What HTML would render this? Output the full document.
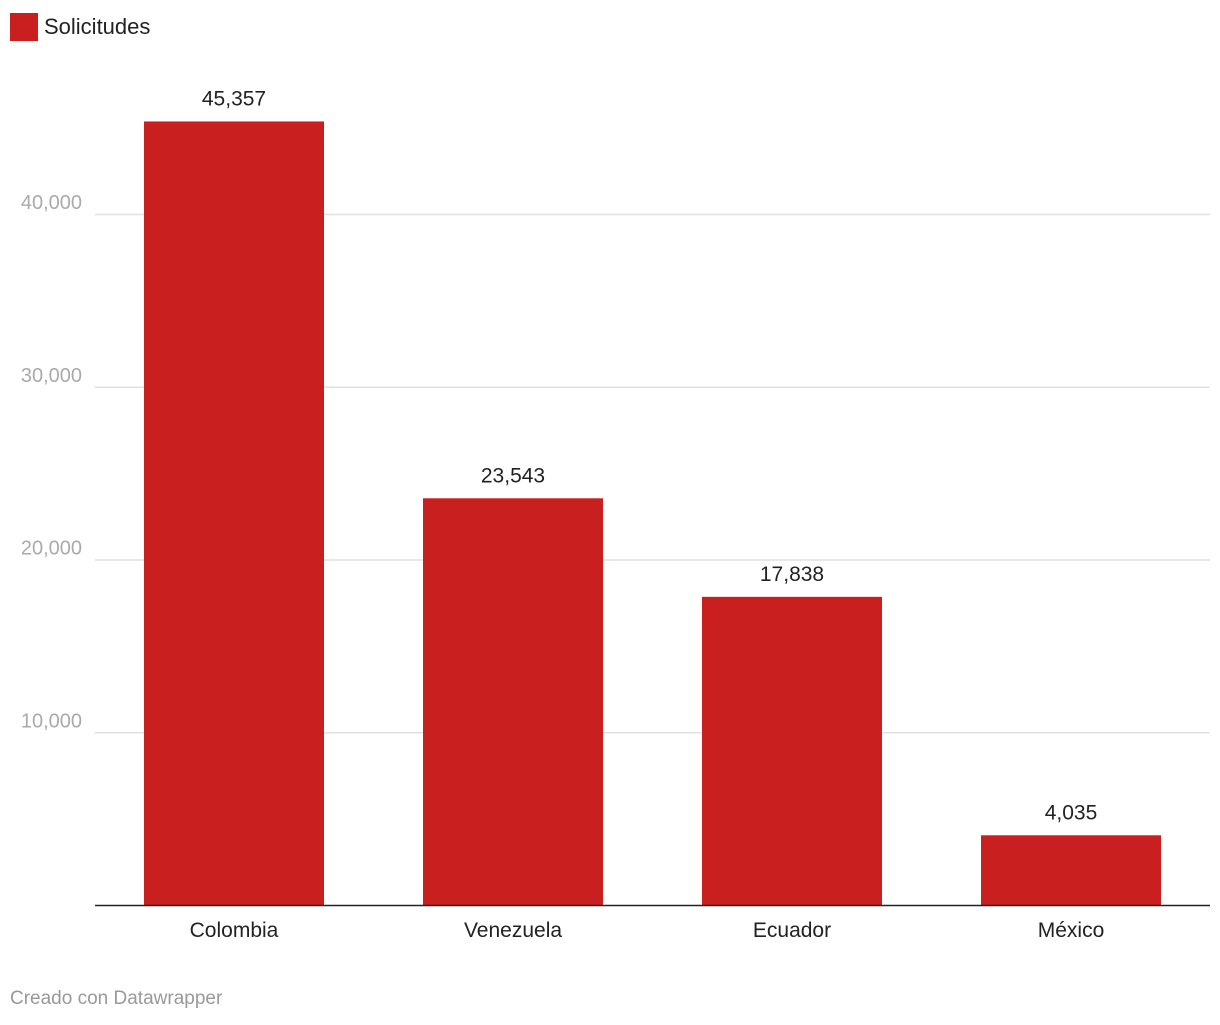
<!DOCTYPE html>
<html><head><meta charset="utf-8"><style>
body{margin:0;background:#fff;font-family:"Liberation Sans",Arial,sans-serif;}
svg text{font-family:"Liberation Sans",Arial,sans-serif;}
</style></head><body>
<svg id="chart" width="1220" height="1020">
<rect x="10" y="13" width="28" height="28" fill="#c91f1f"/>
<text x="44" y="34" font-size="22" fill="#222">Solicitudes</text>
<g id="grid"></g><g id="bars"></g>
<line x1="95" x2="1210" y1="905.5" y2="905.5" stroke="#222" stroke-width="1.5"/>
<text x="10" y="1004" font-size="19" fill="#999">Creado con Datawrapper</text>
</svg>
<script>
const categories=["Colombia","Venezuela","Ecuador","México"];
const values=[45357,23543,17838,4035];
const valueLabels=["45,357","23,543","17,838","4,035"];
const ticks=[10000,20000,30000,40000];
const tickLabels=["10,000","20,000","30,000","40,000"];
const NS="http://www.w3.org/2000/svg";
const y=v=>905-v*691/40000;
const x=i=>144+i*279;
const grid=document.getElementById('grid'),bars=document.getElementById('bars');
function mk(t,a,p){const e=document.createElementNS(NS,t);for(const k in a)e.setAttribute(k,a[k]);p.appendChild(e);return e;}
ticks.forEach((t,i)=>{
 const l=mk('line',{x1:95,x2:1210,y1:y(t)+0.5,y2:y(t)+0.5,stroke:'#e0e0e0','stroke-width':1.5},grid);
 
 
 const tx=mk('text',{x:82,y:y(t)-5,'text-anchor':'end','font-size':20,fill:'#aaa'},grid);
 tx.textContent=tickLabels[i];
 
 
});
values.forEach((v,i)=>{
 const r=mk('rect',{x:x(i),y:y(v),width:180,height:905-y(v),fill:'#c91f1f'},bars);
 
 
 const vl=mk('text',{x:x(i)+90,y:y(v)-16,'text-anchor':'middle','font-size':21,fill:'#222'},bars);
 vl.textContent=valueLabels[i];
 
 
 const cl=mk('text',{x:x(i)+90,y:937,'text-anchor':'middle','font-size':21,fill:'#222'},bars);
 cl.textContent=categories[i];
 
 
});
</script>
</body></html>
